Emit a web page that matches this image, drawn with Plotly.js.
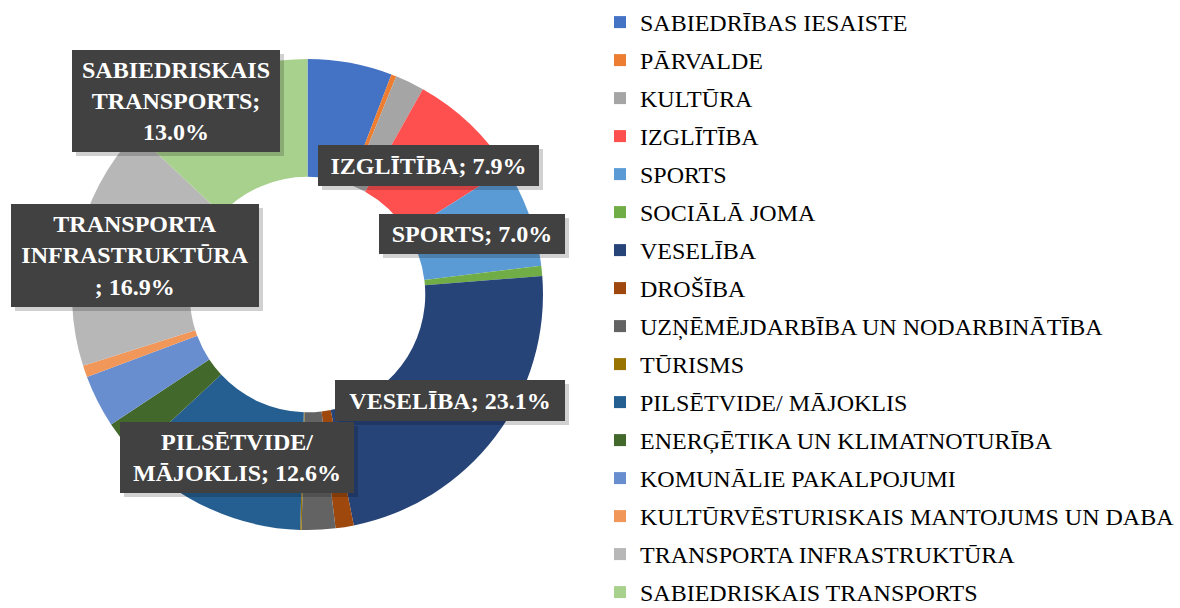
<!DOCTYPE html>
<html>
<head>
<meta charset="utf-8">
<script src="https://cdn.plot.ly/plotly-3.0.1.min.js"></script>
<style>html,body{margin:0;padding:0;background:#fff;}#chart{width:1180px;height:608px;}</style>
</head>
<body>
<div id="chart"></div>
<script>
// ---- data ----
const categories = [
  'SABIEDRĪBAS IESAISTE', 'PĀRVALDE', 'KULTŪRA', 'IZGLĪTĪBA', 'SPORTS',
  'SOCIĀLĀ JOMA', 'VESELĪBA', 'DROŠĪBA', 'UZŅĒMĒJDARBĪBA UN NODARBINĀTĪBA',
  'TŪRISMS', 'PILSĒTVIDE/ MĀJOKLIS', 'ENERĢĒTIKA UN KLIMATNOTURĪBA',
  'KOMUNĀLIE PAKALPOJUMI', 'KULTŪRVĒSTURISKAIS MANTOJUMS UN DABA',
  'TRANSPORTA INFRASTRUKTŪRA', 'SABIEDRISKAIS TRANSPORTS'
];
const values = [5.8, 0.35, 2.0, 7.9, 7.0, 0.7, 23.1, 1.25, 2.3, 0.1, 12.6, 2.6, 3.6, 0.8, 16.9, 13.0];
const colors = [
  '#4472C4', '#ED7D31', '#A5A5A5', '#FF5050', '#5B9BD5', '#70AD47', '#264478', '#9E480E',
  '#636363', '#997300', '#255E91', '#43682B', '#698ED0', '#F1975A', '#B7B7B7', '#A9D18E'
];
// labelled slices: displayed name (with line breaks) per category
const labelNames = {
  'SABIEDRISKAIS TRANSPORTS': 'SABIEDRISKAIS<br>TRANSPORTS;<br>',
  'IZGLĪTĪBA': 'IZGLĪTĪBA; ',
  'SPORTS': 'SPORTS; ',
  'TRANSPORTA INFRASTRUKTŪRA': 'TRANSPORTA<br>INFRASTRUKTŪRA<br>; ',
  'VESELĪBA': 'VESELĪBA; ',
  'PILSĒTVIDE/ MĀJOKLIS': 'PILSĒTVIDE/<br>MĀJOKLIS; '
};

// ---- layout helpers (pixel boxes for the label callouts) ----
const W = 1180, H = 608;
const boxLayout = {
  'SABIEDRISKAIS TRANSPORTS': {cx: 176, cy: 100.5, w: 208, h: 102},
  'IZGLĪTĪBA': {cx: 428.7, cy: 165.3, w: 221, h: 41},
  'SPORTS': {cx: 471.5, cy: 234.2, w: 186, h: 40},
  'TRANSPORTA INFRASTRUKTŪRA': {cx: 135.2, cy: 255.3, w: 248, h: 103},
  'VESELĪBA': {cx: 450, cy: 400.3, w: 230, h: 41},
  'PILSĒTVIDE/ MĀJOKLIS': {cx: 237, cy: 457.2, w: 234, h: 71}
};

const total = values.reduce((a, b) => a + b, 0);
const shadows = [], labels = [];
categories.forEach((c, i) => {
  if (!(c in labelNames)) return;
  const b = boxLayout[c];
  const pct = (values[i] / total * 100).toFixed(1) + '%';
  const common = {xref: 'paper', yref: 'paper', xanchor: 'center', yanchor: 'middle',
    showarrow: false, width: b.w, height: b.h, borderpad: 0, borderwidth: 0, align: 'center', valign: 'middle'};
  shadows.push(Object.assign({}, common, {
    x: (b.cx + 4) / W, y: 1 - (b.cy + 4) / H, text: ' ', bgcolor: 'rgba(0,0,0,0.18)'
  }));
  labels.push(Object.assign({}, common, {
    x: b.cx / W, y: 1 - b.cy / H, text: labelNames[c] + pct, bgcolor: '#414141',
    font: {family: 'Liberation Serif', size: 24, color: '#ffffff', weight: 'bold'}
  }));
});

const pie = {
  type: 'pie', labels: categories, values: values, sort: false,
  direction: 'clockwise', rotation: 0, hole: 0.5,
  marker: {colors: colors, line: {width: 0}},
  textinfo: 'none', showlegend: false, hoverinfo: 'label+percent',
  domain: {x: [72 / W, 543 / W], y: [1 - 530 / H, 1 - 59 / H]}
};

const legendTraces = categories.map((c, i) => ({
  type: 'bar', x: [null], y: [null], name: c, legendgroup: 'g' + i,
  marker: {color: colors[i]}, showlegend: true, hoverinfo: 'skip'
}));

const layout = {
  width: W, height: H,
  margin: {l: 0, r: 0, t: 0, b: 0, autoexpand: false},
  paper_bgcolor: '#ffffff', plot_bgcolor: '#ffffff',
  xaxis: {visible: false}, yaxis: {visible: false},
  showlegend: true,
  legend: {
    x: 600 / W, xanchor: 'left', y: 1, yanchor: 'top',
    font: {family: 'Liberation Serif', size: 24, color: '#000000'},
    traceorder: 'grouped', tracegroupgap: 3.8,
    bgcolor: 'rgba(0,0,0,0)', borderwidth: 0, maxheight: 2000
  },
  annotations: shadows.concat(labels)
};

Plotly.newPlot('chart', [pie].concat(legendTraces), layout, {displayModeBar: false, staticPlot: true});
</script>
</body>
</html>
